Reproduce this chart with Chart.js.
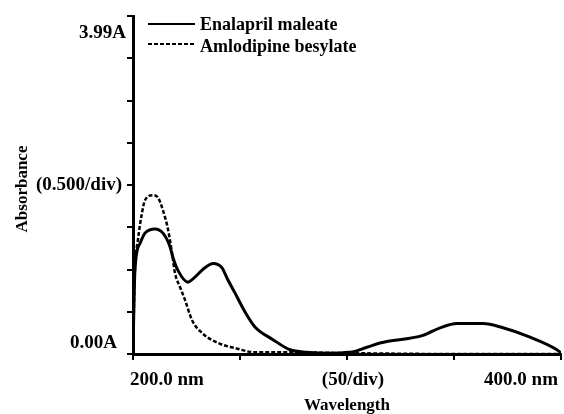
<!doctype html>
<html lang="en">
  <head>
    <meta charset="utf-8">
    <title>UV spectra</title>
    <style>
      * { margin: 0; padding: 0; }
      body { background: #fff; }
      .chartBox { width: 564px; height: 414px; }
    </style>
  </head>
  <body>
    <div class="chartBox">
      <canvas id="myChart"></canvas>
    </div>
    <script src="https://cdn.jsdelivr.net/npm/chart.js"></script>
    <script>
      // wavelength (nm) / absorbance pairs
      const enalaprilNm = [200, 200.9, 203.3, 205.6, 210.3, 214, 217.3, 218.7, 221, 225.7, 227.6, 233.6, 237.4, 241.6, 243.9, 247.7, 252.3, 257, 265.4, 273.4, 281.3, 290.7, 301.4, 309.3, 315.4, 335.5, 343.5, 351.4, 363.6, 372.9, 385.5, 398.1, 400];
      const enalaprilAbs = [0.05, 0.99, 1.31, 1.43, 1.48, 1.43, 1.27, 1.14, 0.99, 0.85, 0.88, 1.02, 1.07, 1.02, 0.9, 0.72, 0.5, 0.32, 0.17, 0.05, 0.02, 0.01, 0.02, 0.08, 0.13, 0.22, 0.31, 0.36, 0.36, 0.31, 0.2, 0.05, 0.01];

      const amlodipineNm = [200, 200.9, 202.3, 204.2, 205.6, 209.3, 211.7, 214, 216.4, 218.2, 219.6, 222, 224.3, 227.6, 232.2, 239.7, 247.7, 257, 274.8, 301.4, 350, 400];
      const amlodipineAbs = [0.05, 0.99, 1.35, 1.67, 1.82, 1.88, 1.85, 1.7, 1.47, 1.2, 0.96, 0.79, 0.64, 0.4, 0.25, 0.13, 0.07, 0.02, 0.02, 0.01, 0.0, 0.0];

      const seriesNames = ['Enalapril maleate', 'Amlodipine besylate'];

      // axis tick labels
      const xLabelValues = [200, 300, 400];
      const xLabelTexts = ['200.0 nm', '(50/div)', '400.0 nm'];
      const yLabelValues = [4, 2, 0];
      const yLabelTexts = ['3.99A', '(0.500/div)', '0.00A'];

      const SERIF = '"Liberation Serif", "DejaVu Serif", serif';
      const TICK_FONT = 'bold 19px ' + SERIF;
      const TITLE_FONT = 'bold 17px ' + SERIF;
      const LEGEND_FONT = 'bold 18px ' + SERIF;

      const toPoints = (xs, ys) => xs.map((x, i) => ({x: x, y: ys[i]}));

      const data = {
        datasets: [{
          label: seriesNames[0],
          data: toPoints(enalaprilNm, enalaprilAbs),
          borderColor: '#000',
          borderWidth: 3,
          pointRadius: 0,
          cubicInterpolationMode: 'monotone'
        }, {
          label: seriesNames[1],
          data: toPoints(amlodipineNm, amlodipineAbs),
          borderColor: '#000',
          borderWidth: 2.5,
          borderDash: [4, 2],
          pointRadius: 0,
          cubicInterpolationMode: 'monotone'
        }]
      };

      // tick labels, axis titles and legend drawn straight on the canvas
      const annotations = {
        id: 'annotations',
        afterDraw(chart) {
          const {ctx, chartArea, scales: {x, y}} = chart;
          ctx.save();
          ctx.fillStyle = '#000';
          ctx.font = TICK_FONT;

          // x labels: first hangs right of its tick, last ends at its tick
          xLabelValues.forEach((v, i) => {
            const px = x.getPixelForValue(v);
            ctx.textAlign = i === 0 ? 'left' : (i === xLabelValues.length - 1 ? 'right' : 'center');
            ctx.textBaseline = 'alphabetic';
            ctx.fillText(xLabelTexts[i], i === 0 ? px - 3 : (i === xLabelValues.length - 1 ? px - 3 : px + 6), chartArea.bottom + 31);
          });

          // y labels: top one sits below its tick, bottom one above
          ctx.textAlign = 'right';
          yLabelValues.forEach((v, i) => {
            const py = y.getPixelForValue(v);
            let off = 0;
            ctx.textBaseline = 'middle';
            if (i === 0) { ctx.textBaseline = 'alphabetic'; off = 22; }
            if (i === yLabelValues.length - 1) { ctx.textBaseline = 'alphabetic'; off = -6; }
            ctx.fillText(yLabelTexts[i], chartArea.left - (i === 0 ? 7 : (i === 1 ? 11 : 16)), py + off);
          });

          // axis titles
          ctx.font = TITLE_FONT;
          ctx.textAlign = 'center';
          ctx.textBaseline = 'alphabetic';
          ctx.fillText('Wavelength', (chartArea.left + chartArea.right) / 2, chartArea.bottom + 56);
          ctx.save();
          ctx.translate(27, (chartArea.top + chartArea.bottom) / 2 + 4);
          ctx.rotate(-Math.PI / 2);
          ctx.fillText('Absorbance', 0, 0);
          ctx.restore();

          // legend
          ctx.font = LEGEND_FONT;
          ctx.textAlign = 'left';
          ctx.textBaseline = 'middle';
          chart.data.datasets.forEach((ds, i) => {
            const ly = chartArea.top + 8 + i * 20;
            ctx.beginPath();
            ctx.setLineDash(ds.borderDash || []);
            ctx.lineWidth = 2;
            ctx.strokeStyle = ds.borderColor;
            ctx.moveTo(chartArea.left + 15, ly);
            ctx.lineTo(chartArea.left + 62, ly);
            ctx.stroke();
            ctx.setLineDash([]);
            ctx.fillText(ds.label, chartArea.left + 67, ly + 1 + i * 2);
          });
          ctx.restore();
        }
      };

      const config = {
        type: 'scatter',
        data,
        options: {
          responsive: true,
          maintainAspectRatio: false,
          animation: false,
          showLine: true,
          layout: {
            padding: {left: 127, right: 3, top: 16, bottom: 54}
          },
          plugins: {
            legend: { display: false },
            tooltip: { enabled: false }
          },
          scales: {
            x: {
              type: 'linear',
              min: 200,
              max: 400,
              ticks: { stepSize: 50, display: false },
              grid: { drawOnChartArea: false, drawTicks: true, tickLength: 6, lineWidth: 2, color: '#000' },
              border: { display: true, width: 3, color: '#000' }
            },
            y: {
              min: 0,
              max: 4,
              ticks: { stepSize: 0.5, display: false },
              grid: { drawOnChartArea: false, drawTicks: true, tickLength: 6, lineWidth: 2, color: '#000' },
              border: { display: true, width: 3, color: '#000' }
            }
          }
        },
        plugins: [annotations]
      };

      const myChart = new Chart(document.getElementById('myChart'), config);
    </script>
  </body>
</html>
